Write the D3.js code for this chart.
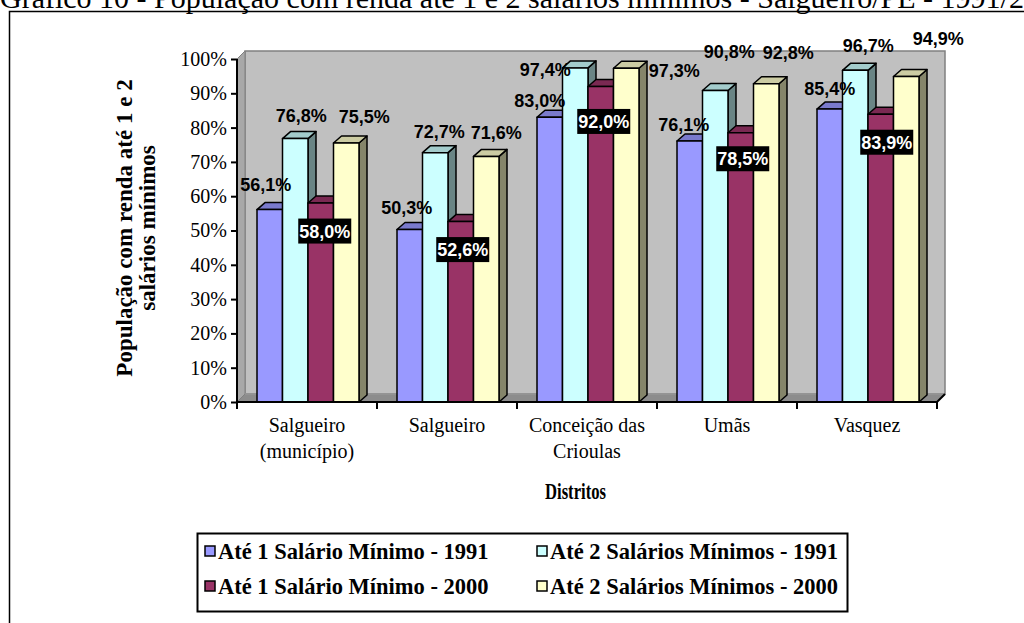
<!DOCTYPE html>
<html><head><meta charset="utf-8">
<script src="https://cdn.jsdelivr.net/npm/d3@7/dist/d3.min.js"></script>
<style>body{margin:0;background:#fff}svg{display:block}</style>
</head><body>
<svg id="c" width="1024" height="623"></svg>
<script>
const categories = [["Salgueiro","(município)"],["Salgueiro"],["Conceição das","Crioulas"],["Umãs"],["Vasquez"]];
const seriesNames = ["Até 1 Salário Mínimo - 1991","Até 2 Salários Mínimos - 1991","Até 1 Salário Mínimo - 2000","Até 2 Salários Mínimos - 2000"];
const s1991a = [56.1, 50.3, 83.0, 76.1, 85.4];
const s1991b = [76.8, 72.7, 97.4, 90.8, 96.7];
const s2000a = [58.0, 52.6, 92.0, 78.5, 83.9];
const s2000b = [75.5, 71.6, 97.3, 92.8, 94.9];
const seriesValues = [s1991a, s1991b, s2000a, s2000b];
const yTicks = [0,10,20,30,40,50,60,70,80,90,100];
const colors = ["#9999FF","#CCFFFF","#993366","#FFFFCC"];
// label nudges (dx from bar centre, dy from bar top), per series per category
const labelNudge = [
  [[-4,-25],[-3,-22],[-10,-17],[-6,-16],[0,-21]],
  [[6,-23],[4,-21],[-30,2],[14,-39],[13,-25]],
  [[4,28],[2,28],[3,35],[2,26],[6,28]],
  [[18,-27],[10,-24],[48,2],[22,-31],[32,-38]]
];

const SERIF = "'Liberation Serif','Times New Roman',serif";
const SANS = "'Liberation Sans',Arial,sans-serif";
const svg = d3.select("#c");
const L=237, R=937, B=402, T=59, DX=8, DY=-8, BDX=8, BDY=-7;
const catKeys = categories.map((c,i)=>i);
const x0 = d3.scaleBand().domain(catKeys).range([L,R]);
const x1 = d3.scaleBand().domain(d3.range(4)).range([20,122]);
const y = d3.scaleLinear().domain([0,100]).range([B,T]);

// title (clipped at top)
svg.append("text").attr("x",0).attr("y",8).attr("font-family",SERIF).attr("font-size",30)
  .text("Gráfico 10 - População com renda até 1 e 2 salários mínimos - Salgueiro/PE - 1991/2000");
// frame
svg.append("path").attr("d","M9.5,623V11.5H1024").attr("fill","none").attr("stroke","#000").attr("stroke-width",1.5);

// walls
const g = svg.append("g");
g.append("path").attr("d",`M${L+DX},${y(100)+DY}H${R+DX}V${B+DY}H${L+DX}Z`).attr("fill","#c0c0c0").attr("stroke","#808080").attr("stroke-width",1.5);
g.append("path").attr("d",`M${L},${T}L${L+DX},${T+DY}V${B+DY}L${L},${B}Z`).attr("fill","#a8a8a8").attr("stroke","#808080");
g.append("path").attr("d",`M${L},${B}L${L+DX},${B+DY}H${R+DX}L${R},${B}Z`).attr("fill","#8c8c8c").attr("stroke","#808080");
g.append("path").attr("d",`M${L+DX},${B+DY}H${R+DX}`).attr("stroke","#a0a0a0").attr("stroke-width",1);

function shade(c,k){const r=d3.rgb(c);return d3.rgb(r.r*k,r.g*k,r.b*k).toString();}

// bars
const bars = svg.append("g");
catKeys.forEach(ci=>{
  seriesValues.forEach((vals,si)=>{
    const x = x0(ci)+x1(si), w = x1.bandwidth(), yt = y(vals[ci]);
    const gb = bars.append("g").attr("stroke","#000").attr("stroke-width",1.5).attr("stroke-linejoin","round");
    gb.append("path").attr("d",`M${x+w},${yt}L${x+w+BDX},${yt+BDY}V${B+BDY}L${x+w},${B}Z`).attr("fill",shade(colors[si],0.52));
    gb.append("path").attr("d",`M${x},${yt}L${x+BDX},${yt+BDY}H${x+w+BDX}L${x+w},${yt}Z`).attr("fill",shade(colors[si],0.8));
    gb.append("rect").attr("x",x).attr("y",yt).attr("width",w).attr("height",B-yt).attr("fill",colors[si]);
  });
});

// axes
const yAxis = svg.append("g").attr("transform",`translate(${L},0)`).call(d3.axisLeft(y).tickValues(yTicks).tickFormat(d=>d+"%").tickSize(6).tickPadding(4));
yAxis.select(".domain").attr("stroke-width",2).attr("d",`M0,${T}V${B}`);
yAxis.selectAll(".tick line").attr("stroke-width",2);
yAxis.selectAll("text").attr("font-family",SERIF).attr("font-size",20).attr("fill","#000");
const xa = svg.append("g");
xa.append("path").attr("d",`M${L},${B}H${R}L${R+DX},${B+DY}`).attr("stroke","#000").attr("stroke-width",2).attr("fill","none");
catKeys.concat([categories.length]).forEach(i=>{
  const xx = i<categories.length? x0(i): R;
  xa.append("line").attr("x1",xx).attr("x2",xx).attr("y1",B).attr("y2",B+7).attr("stroke","#000").attr("stroke-width",2);
});
categories.forEach((c,i)=>{
  const t = xa.append("text").attr("text-anchor","middle").attr("font-family",SERIF).attr("font-size",20);
  c.forEach((line,j)=>t.append("tspan").attr("x",x0(i)+x0.bandwidth()/2).attr("y",432+j*26).text(line));
});
svg.append("text").attr("x",545).attr("y",499).attr("font-family",SERIF).attr("font-weight","bold").attr("font-size",23)
  .attr("textLength",61).attr("lengthAdjust","spacingAndGlyphs").text("Distritos");
const yt = svg.append("text").attr("transform","rotate(-90)").attr("text-anchor","middle").attr("font-family",SERIF).attr("font-weight","bold").attr("font-size",23);
yt.append("tspan").attr("x",-228).attr("y",132).text("População com renda até 1 e 2");
yt.append("tspan").attr("x",-228).attr("y",155).text("salários mínimos");

// data labels
const lab = svg.append("g").attr("font-family",SANS).attr("font-weight","bold").attr("font-size",18);
seriesValues.forEach((vals,si)=>{
  vals.forEach((v,ci)=>{
    const cx = x0(ci)+x1(si)+x1.bandwidth()/2 + labelNudge[si][ci][0];
    const cy = y(v) + labelNudge[si][ci][1];
    const txt = v.toFixed(1).replace(".",",")+"%";
    if(si===2){
      lab.append("rect").attr("x",cx-26.5).attr("y",cy-12.5).attr("width",53).attr("height",25).attr("fill","#000");
      lab.append("text").attr("x",cx).attr("y",cy+6.5).attr("text-anchor","middle").attr("fill","#fff").text(txt);
    } else {
      lab.append("text").attr("x",cx).attr("y",cy+6.5).attr("text-anchor","middle").attr("fill","#000").text(txt);
    }
  });
});

// legend
const lg = svg.append("g");
lg.append("rect").attr("x",197.5).attr("y",533.5).attr("width",650).attr("height",78).attr("fill","#fff").attr("stroke","#000").attr("stroke-width",2);
const lpos = [[205,551],[537,551],[205,586],[537,586]];
seriesNames.forEach((n,i)=>{
  const [lx,ly]=lpos[i];
  lg.append("rect").attr("x",lx).attr("y",ly-5).attr("width",10).attr("height",10).attr("fill",colors[i]).attr("stroke","#000").attr("stroke-width",1.5);
  lg.append("text").attr("x",lx+13).attr("y",ly+8).attr("font-family",SERIF).attr("font-weight","bold").attr("font-size",22.5).text(n);
});
</script>
</body></html>
